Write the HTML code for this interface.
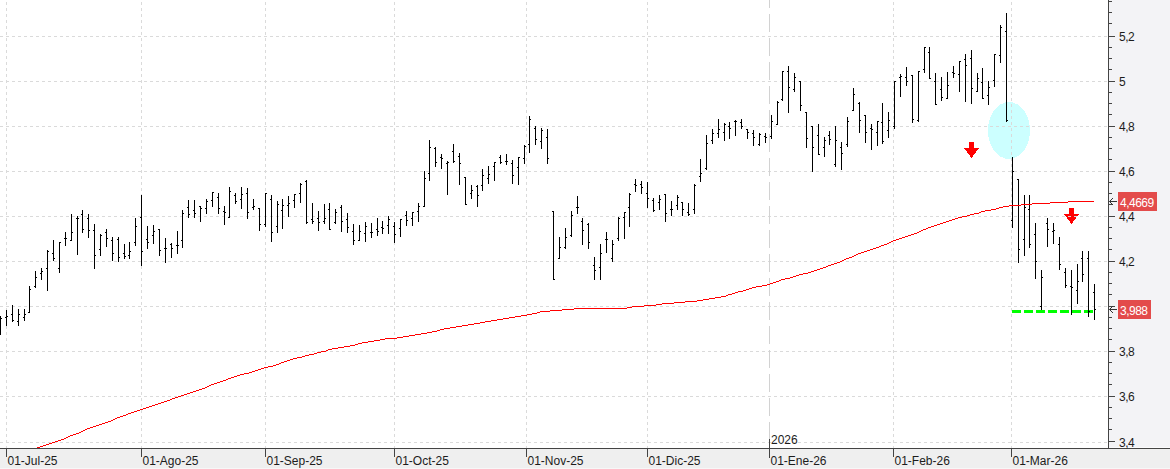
<!DOCTYPE html><html><head><meta charset="utf-8"><title>Chart</title><style>
html,body{margin:0;padding:0;background:#fff;}
body{width:1170px;height:469px;overflow:hidden;position:relative;}
svg{position:absolute;left:0;top:0;}
.t{font-family:"Liberation Sans",Arial,sans-serif;font-size:12px;fill:#1c1c1c;}
.w{fill:#fff;} .ya{letter-spacing:-0.5px;}
</style></head><body>
<svg width="1170" height="469" viewBox="0 0 1170 469">
<rect x="1109" y="0" width="61" height="448" fill="#f3f3f6"/>
<rect x="1109" y="447" width="61" height="1" fill="#fbfbfc"/>
<rect x="0" y="449" width="1170" height="20" fill="#efefef"/>
<rect x="0" y="468" width="1170" height="1" fill="#f7f7f7"/>
<ellipse cx="1009" cy="130.5" rx="21" ry="28.5" fill="#ccffff" shape-rendering="crispEdges"/>
<g shape-rendering="crispEdges" fill="#ff0000"><rect x="969" y="142" width="5" height="6"/><polygon points="964,148 979,148 971.5,158"/></g>
<g shape-rendering="crispEdges" fill="#ff0000"><rect x="1069" y="208" width="5" height="6"/><polygon points="1064,214 1079,214 1071.5,224"/></g>
<g shape-rendering="crispEdges" stroke="#dadada" stroke-width="1" fill="none">
<line x1="0" y1="36.5" x2="1108" y2="36.5" stroke-dasharray="3 3"/>
<line x1="0" y1="81.5" x2="1108" y2="81.5" stroke-dasharray="3 3"/>
<line x1="0" y1="126.5" x2="1108" y2="126.5" stroke-dasharray="3 3"/>
<line x1="0" y1="171.5" x2="1108" y2="171.5" stroke-dasharray="3 3"/>
<line x1="0" y1="216.5" x2="1108" y2="216.5" stroke-dasharray="3 3"/>
<line x1="0" y1="261.5" x2="1108" y2="261.5" stroke-dasharray="3 3"/>
<line x1="0" y1="306.5" x2="1108" y2="306.5" stroke-dasharray="3 3"/>
<line x1="0" y1="351.5" x2="1108" y2="351.5" stroke-dasharray="3 3"/>
<line x1="0" y1="396.5" x2="1108" y2="396.5" stroke-dasharray="3 3"/>
<line x1="0" y1="442.5" x2="1108" y2="442.5" stroke-dasharray="3 3"/>
<line x1="6.5" y1="-4" x2="6.5" y2="448" stroke-dasharray="3 3"/>
<line x1="141.5" y1="-4" x2="141.5" y2="448" stroke-dasharray="3 3"/>
<line x1="265.5" y1="-4" x2="265.5" y2="448" stroke-dasharray="3 3"/>
<line x1="394.5" y1="-4" x2="394.5" y2="448" stroke-dasharray="3 3"/>
<line x1="526.5" y1="-4" x2="526.5" y2="448" stroke-dasharray="3 3"/>
<line x1="647.5" y1="-4" x2="647.5" y2="448" stroke-dasharray="3 3"/>
<line x1="893.5" y1="-4" x2="893.5" y2="448" stroke-dasharray="3 3"/>
<line x1="1011.5" y1="-4" x2="1011.5" y2="448" stroke-dasharray="3 3"/>
</g>
<line x1="769.5" y1="-10" x2="769.5" y2="448" stroke="#d2d2d2" stroke-width="1" stroke-dasharray="18 6" shape-rendering="crispEdges"/>
<line x1="1012" y1="311.5" x2="1094" y2="311.5" stroke="#00ff00" stroke-width="3" stroke-dasharray="9 3" shape-rendering="crispEdges"/>
<path shape-rendering="crispEdges" fill="#000" d="M0 316h1v19h-1zM-1 330h1v1h-1zM1 318h1v1h-1zM6 310h1v16h-1zM5 317h1v1h-1zM7 316h1v1h-1zM12 305h1v17h-1zM11 314h1v1h-1zM13 320h1v1h-1zM18 309h1v17h-1zM17 321h1v1h-1zM19 314h1v1h-1zM24 309h1v12h-1zM23 317h1v1h-1zM25 314h1v1h-1zM29 286h1v27h-1zM28 312h1v1h-1zM30 289h1v1h-1zM35 271h1v17h-1zM34 286h1v1h-1zM36 277h1v1h-1zM41 268h1v12h-1zM40 273h1v1h-1zM42 271h1v1h-1zM47 250h1v41h-1zM46 268h1v1h-1zM48 251h1v1h-1zM53 240h1v21h-1zM52 253h1v1h-1zM54 258h1v1h-1zM59 242h1v31h-1zM58 268h1v1h-1zM60 242h1v1h-1zM65 232h1v14h-1zM64 238h1v1h-1zM66 238h1v1h-1zM71 214h1v27h-1zM70 240h1v1h-1zM72 232h1v1h-1zM77 216h1v39h-1zM76 218h1v1h-1zM78 218h1v1h-1zM82 210h1v23h-1zM81 214h1v1h-1zM83 229h1v1h-1zM88 214h1v24h-1zM87 218h1v1h-1zM89 230h1v1h-1zM94 224h1v45h-1zM93 230h1v1h-1zM95 255h1v1h-1zM100 234h1v22h-1zM99 249h1v1h-1zM101 235h1v1h-1zM106 229h1v18h-1zM105 232h1v1h-1zM107 238h1v1h-1zM112 237h1v24h-1zM111 240h1v1h-1zM113 253h1v1h-1zM118 237h1v25h-1zM117 239h1v1h-1zM119 257h1v1h-1zM124 244h1v15h-1zM123 253h1v1h-1zM125 256h1v1h-1zM129 242h1v17h-1zM128 255h1v1h-1zM130 251h1v1h-1zM135 218h1v28h-1zM134 242h1v1h-1zM136 226h1v1h-1zM141 195h1v71h-1zM140 217h1v1h-1zM142 251h1v1h-1zM147 226h1v23h-1zM146 239h1v1h-1zM148 242h1v1h-1zM153 225h1v19h-1zM152 235h1v1h-1zM154 231h1v1h-1zM159 229h1v27h-1zM158 229h1v1h-1zM160 250h1v1h-1zM165 238h1v25h-1zM164 248h1v1h-1zM166 248h1v1h-1zM171 243h1v15h-1zM170 244h1v1h-1zM172 248h1v1h-1zM177 231h1v23h-1zM176 245h1v1h-1zM178 245h1v1h-1zM182 210h1v38h-1zM181 240h1v1h-1zM183 213h1v1h-1zM188 200h1v18h-1zM187 207h1v1h-1zM189 214h1v1h-1zM194 200h1v18h-1zM193 210h1v1h-1zM195 213h1v1h-1zM200 206h1v16h-1zM199 206h1v1h-1zM201 208h1v1h-1zM206 199h1v15h-1zM205 208h1v1h-1zM207 201h1v1h-1zM212 192h1v15h-1zM211 200h1v1h-1zM213 192h1v1h-1zM218 193h1v21h-1zM217 197h1v1h-1zM219 208h1v1h-1zM224 206h1v19h-1zM223 211h1v1h-1zM225 212h1v1h-1zM229 187h1v31h-1zM228 217h1v1h-1zM230 191h1v1h-1zM235 193h1v11h-1zM234 195h1v1h-1zM236 201h1v1h-1zM241 187h1v22h-1zM240 199h1v1h-1zM242 194h1v1h-1zM247 188h1v31h-1zM246 193h1v1h-1zM248 212h1v1h-1zM253 199h1v11h-1zM252 207h1v1h-1zM254 206h1v1h-1zM259 208h1v23h-1zM258 208h1v1h-1zM260 224h1v1h-1zM265 193h1v34h-1zM264 224h1v1h-1zM266 193h1v1h-1zM271 195h1v47h-1zM270 199h1v1h-1zM272 232h1v1h-1zM277 201h1v32h-1zM276 226h1v1h-1zM278 204h1v1h-1zM282 199h1v30h-1zM281 210h1v1h-1zM283 205h1v1h-1zM288 196h1v21h-1zM287 205h1v1h-1zM289 203h1v1h-1zM294 194h1v14h-1zM293 200h1v1h-1zM295 194h1v1h-1zM300 183h1v20h-1zM299 193h1v1h-1zM301 184h1v1h-1zM306 180h1v44h-1zM305 181h1v1h-1zM307 222h1v1h-1zM312 203h1v21h-1zM311 219h1v1h-1zM313 221h1v1h-1zM318 211h1v20h-1zM317 218h1v1h-1zM319 222h1v1h-1zM324 204h1v20h-1zM323 221h1v1h-1zM325 218h1v1h-1zM329 203h1v27h-1zM328 209h1v1h-1zM330 229h1v1h-1zM335 209h1v15h-1zM334 222h1v1h-1zM336 212h1v1h-1zM341 205h1v27h-1zM340 207h1v1h-1zM342 221h1v1h-1zM347 213h1v20h-1zM346 219h1v1h-1zM348 227h1v1h-1zM353 224h1v21h-1zM352 231h1v1h-1zM354 240h1v1h-1zM359 225h1v16h-1zM358 240h1v1h-1zM360 231h1v1h-1zM365 222h1v20h-1zM364 233h1v1h-1zM366 226h1v1h-1zM371 223h1v15h-1zM370 232h1v1h-1zM372 232h1v1h-1zM377 218h1v18h-1zM376 229h1v1h-1zM378 231h1v1h-1zM382 221h1v13h-1zM381 227h1v1h-1zM383 228h1v1h-1zM388 216h1v18h-1zM387 225h1v1h-1zM389 219h1v1h-1zM394 222h1v21h-1zM393 226h1v1h-1zM395 234h1v1h-1zM400 219h1v18h-1zM399 228h1v1h-1zM401 219h1v1h-1zM406 211h1v15h-1zM405 215h1v1h-1zM407 220h1v1h-1zM412 212h1v14h-1zM411 218h1v1h-1zM413 212h1v1h-1zM418 203h1v19h-1zM417 211h1v1h-1zM419 206h1v1h-1zM424 171h1v36h-1zM423 206h1v1h-1zM425 178h1v1h-1zM429 140h1v41h-1zM428 173h1v1h-1zM430 147h1v1h-1zM435 147h1v20h-1zM434 148h1v1h-1zM436 162h1v1h-1zM441 154h1v15h-1zM440 157h1v1h-1zM442 158h1v1h-1zM447 161h1v34h-1zM446 163h1v1h-1zM448 162h1v1h-1zM453 144h1v19h-1zM452 151h1v1h-1zM454 161h1v1h-1zM459 153h1v32h-1zM458 156h1v1h-1zM460 163h1v1h-1zM465 177h1v28h-1zM464 177h1v1h-1zM466 204h1v1h-1zM471 185h1v14h-1zM470 193h1v1h-1zM472 190h1v1h-1zM477 185h1v22h-1zM476 186h1v1h-1zM478 195h1v1h-1zM482 169h1v22h-1zM481 185h1v1h-1zM483 175h1v1h-1zM488 166h1v18h-1zM487 178h1v1h-1zM489 174h1v1h-1zM494 162h1v19h-1zM493 166h1v1h-1zM495 162h1v1h-1zM500 155h1v9h-1zM499 157h1v1h-1zM501 162h1v1h-1zM506 154h1v11h-1zM505 161h1v1h-1zM507 161h1v1h-1zM512 160h1v24h-1zM511 163h1v1h-1zM513 175h1v1h-1zM518 157h1v28h-1zM517 167h1v1h-1zM519 157h1v1h-1zM524 145h1v19h-1zM523 158h1v1h-1zM525 146h1v1h-1zM529 116h1v37h-1zM528 144h1v1h-1zM530 119h1v1h-1zM535 126h1v19h-1zM534 128h1v1h-1zM536 139h1v1h-1zM541 128h1v21h-1zM540 141h1v1h-1zM542 130h1v1h-1zM547 129h1v35h-1zM546 137h1v1h-1zM548 158h1v1h-1zM553 211h1v69h-1zM552 211h1v1h-1zM554 279h1v1h-1zM559 237h1v22h-1zM558 258h1v1h-1zM560 247h1v1h-1zM565 228h1v21h-1zM564 247h1v1h-1zM566 237h1v1h-1zM571 211h1v26h-1zM570 235h1v1h-1zM572 215h1v1h-1zM577 196h1v18h-1zM576 207h1v1h-1zM578 207h1v1h-1zM582 218h1v27h-1zM581 221h1v1h-1zM583 230h1v1h-1zM588 223h1v26h-1zM587 224h1v1h-1zM589 242h1v1h-1zM594 257h1v23h-1zM593 265h1v1h-1zM595 270h1v1h-1zM600 244h1v36h-1zM599 267h1v1h-1zM601 253h1v1h-1zM606 232h1v21h-1zM605 239h1v1h-1zM607 239h1v1h-1zM612 240h1v22h-1zM611 258h1v1h-1zM613 244h1v1h-1zM618 217h1v24h-1zM617 238h1v1h-1zM619 218h1v1h-1zM624 212h1v27h-1zM623 217h1v1h-1zM625 212h1v1h-1zM629 193h1v34h-1zM628 207h1v1h-1zM630 194h1v1h-1zM635 179h1v13h-1zM634 184h1v1h-1zM636 185h1v1h-1zM641 181h1v13h-1zM640 184h1v1h-1zM642 187h1v1h-1zM647 182h1v26h-1zM646 193h1v1h-1zM648 198h1v1h-1zM653 198h1v14h-1zM652 200h1v1h-1zM654 210h1v1h-1zM659 195h1v15h-1zM658 202h1v1h-1zM660 199h1v1h-1zM665 194h1v28h-1zM664 194h1v1h-1zM666 213h1v1h-1zM671 201h1v15h-1zM670 209h1v1h-1zM672 209h1v1h-1zM677 195h1v15h-1zM676 205h1v1h-1zM678 197h1v1h-1zM682 202h1v14h-1zM681 202h1v1h-1zM683 209h1v1h-1zM688 203h1v13h-1zM687 212h1v1h-1zM689 214h1v1h-1zM694 184h1v30h-1zM693 209h1v1h-1zM695 185h1v1h-1zM700 159h1v23h-1zM699 176h1v1h-1zM701 173h1v1h-1zM706 135h1v35h-1zM705 168h1v1h-1zM707 143h1v1h-1zM712 129h1v15h-1zM711 140h1v1h-1zM713 133h1v1h-1zM718 119h1v19h-1zM717 133h1v1h-1zM719 129h1v1h-1zM724 123h1v18h-1zM723 132h1v1h-1zM725 124h1v1h-1zM729 122h1v17h-1zM728 126h1v1h-1zM730 128h1v1h-1zM735 120h1v16h-1zM734 121h1v1h-1zM736 121h1v1h-1zM741 119h1v10h-1zM740 122h1v1h-1zM742 126h1v1h-1zM747 129h1v10h-1zM746 129h1v1h-1zM748 132h1v1h-1zM753 130h1v16h-1zM752 133h1v1h-1zM754 137h1v1h-1zM759 133h1v13h-1zM758 144h1v1h-1zM760 134h1v1h-1zM765 133h1v10h-1zM764 136h1v1h-1zM766 137h1v1h-1zM771 115h1v24h-1zM770 136h1v1h-1zM772 121h1v1h-1zM777 101h1v24h-1zM776 124h1v1h-1zM778 102h1v1h-1zM782 71h1v30h-1zM781 99h1v1h-1zM783 71h1v1h-1zM788 66h1v47h-1zM787 71h1v1h-1zM789 87h1v1h-1zM794 73h1v19h-1zM793 89h1v1h-1zM795 77h1v1h-1zM800 81h1v30h-1zM799 81h1v1h-1zM801 105h1v1h-1zM806 112h1v36h-1zM805 112h1v1h-1zM807 138h1v1h-1zM812 126h1v46h-1zM811 126h1v1h-1zM813 147h1v1h-1zM818 124h1v31h-1zM817 135h1v1h-1zM819 154h1v1h-1zM824 137h1v20h-1zM823 147h1v1h-1zM825 140h1v1h-1zM829 131h1v14h-1zM828 135h1v1h-1zM830 139h1v1h-1zM835 126h1v41h-1zM834 164h1v1h-1zM836 140h1v1h-1zM841 142h1v28h-1zM840 147h1v1h-1zM842 153h1v1h-1zM847 117h1v30h-1zM846 144h1v1h-1zM848 121h1v1h-1zM853 88h1v23h-1zM852 110h1v1h-1zM854 94h1v1h-1zM859 102h1v31h-1zM858 103h1v1h-1zM860 120h1v1h-1zM865 115h1v28h-1zM864 115h1v1h-1zM866 132h1v1h-1zM871 124h1v26h-1zM870 128h1v1h-1zM872 129h1v1h-1zM877 121h1v25h-1zM876 132h1v1h-1zM878 121h1v1h-1zM882 103h1v41h-1zM881 122h1v1h-1zM883 141h1v1h-1zM888 112h1v26h-1zM887 130h1v1h-1zM889 120h1v1h-1zM894 81h1v48h-1zM893 126h1v1h-1zM895 81h1v1h-1zM900 74h1v23h-1zM899 77h1v1h-1zM901 76h1v1h-1zM906 67h1v19h-1zM905 77h1v1h-1zM907 81h1v1h-1zM912 75h1v48h-1zM911 75h1v1h-1zM913 119h1v1h-1zM918 71h1v51h-1zM917 120h1v1h-1zM919 71h1v1h-1zM924 47h1v26h-1zM923 69h1v1h-1zM925 47h1v1h-1zM929 47h1v32h-1zM928 52h1v1h-1zM930 78h1v1h-1zM935 73h1v32h-1zM934 81h1v1h-1zM936 104h1v1h-1zM941 77h1v24h-1zM940 89h1v1h-1zM942 97h1v1h-1zM947 72h1v27h-1zM946 98h1v1h-1zM948 85h1v1h-1zM953 66h1v12h-1zM952 72h1v1h-1zM954 73h1v1h-1zM959 61h1v31h-1zM958 74h1v1h-1zM960 61h1v1h-1zM965 54h1v48h-1zM964 59h1v1h-1zM966 65h1v1h-1zM971 50h1v54h-1zM970 58h1v1h-1zM972 88h1v1h-1zM977 73h1v19h-1zM976 91h1v1h-1zM978 78h1v1h-1zM982 68h1v31h-1zM981 82h1v1h-1zM983 98h1v1h-1zM988 81h1v24h-1zM987 95h1v1h-1zM989 87h1v1h-1zM994 54h1v33h-1zM993 80h1v1h-1zM995 54h1v1h-1zM1000 25h1v38h-1zM999 55h1v1h-1zM1001 27h1v1h-1zM1006 13h1v109h-1zM1005 31h1v1h-1zM1007 120h1v1h-1zM1012 157h1v71h-1zM1011 220h1v1h-1zM1013 171h1v1h-1zM1018 179h1v84h-1zM1017 179h1v1h-1zM1019 249h1v1h-1zM1024 195h1v61h-1zM1023 239h1v1h-1zM1025 207h1v1h-1zM1029 195h1v53h-1zM1028 209h1v1h-1zM1030 244h1v1h-1zM1035 223h1v56h-1zM1034 234h1v1h-1zM1036 261h1v1h-1zM1041 270h1v40h-1zM1040 306h1v1h-1zM1042 277h1v1h-1zM1047 218h1v29h-1zM1046 223h1v1h-1zM1048 229h1v1h-1zM1053 223h1v21h-1zM1052 231h1v1h-1zM1054 230h1v1h-1zM1059 237h1v33h-1zM1058 244h1v1h-1zM1060 264h1v1h-1zM1065 268h1v20h-1zM1064 272h1v1h-1zM1066 285h1v1h-1zM1071 270h1v45h-1zM1070 286h1v1h-1zM1072 287h1v1h-1zM1077 264h1v40h-1zM1076 290h1v1h-1zM1078 281h1v1h-1zM1082 251h1v31h-1zM1081 258h1v1h-1zM1083 274h1v1h-1zM1088 251h1v66h-1zM1087 258h1v1h-1zM1089 311h1v1h-1zM1094 284h1v36h-1zM1093 292h1v1h-1zM1095 309h1v1h-1z"/>
<path shape-rendering="crispEdges" fill="#ff0000" d="M37 447h3v1h-3zM40 446h3v1h-3zM43 445h3v1h-3zM46 444h3v1h-3zM49 443h3v1h-3zM52 442h3v1h-3zM55 441h3v1h-3zM58 440h3v1h-3zM61 439h3v1h-3zM64 438h2v1h-2zM66 437h2v1h-2zM68 436h2v1h-2zM70 435h3v1h-3zM73 434h3v1h-3zM76 433h3v1h-3zM79 432h2v1h-2zM81 431h2v1h-2zM83 430h2v1h-2zM85 429h2v1h-2zM87 428h3v1h-3zM90 427h3v1h-3zM93 426h3v1h-3zM96 425h3v1h-3zM99 424h3v1h-3zM102 423h3v1h-3zM105 422h3v1h-3zM108 421h3v1h-3zM111 420h2v1h-2zM113 419h2v1h-2zM115 418h2v1h-2zM117 417h3v1h-3zM120 416h3v1h-3zM123 415h3v1h-3zM126 414h2v1h-2zM128 413h3v1h-3zM131 412h3v1h-3zM134 411h3v1h-3zM137 410h3v1h-3zM140 409h3v1h-3zM143 408h3v1h-3zM146 407h3v1h-3zM149 406h3v1h-3zM152 405h3v1h-3zM155 404h3v1h-3zM158 403h3v1h-3zM161 402h3v1h-3zM164 401h3v1h-3zM167 400h3v1h-3zM170 399h2v1h-2zM172 398h3v1h-3zM175 397h3v1h-3zM178 396h3v1h-3zM181 395h3v1h-3zM184 394h3v1h-3zM187 393h3v1h-3zM190 392h3v1h-3zM193 391h3v1h-3zM196 390h3v1h-3zM199 389h3v1h-3zM202 388h3v1h-3zM205 387h2v1h-2zM207 386h2v1h-2zM209 385h2v1h-2zM211 384h3v1h-3zM214 383h3v1h-3zM217 382h3v1h-3zM220 381h3v1h-3zM223 380h3v1h-3zM226 379h2v1h-2zM228 378h3v1h-3zM231 377h3v1h-3zM234 376h3v1h-3zM237 375h3v1h-3zM240 374h4v1h-4zM244 373h5v1h-5zM249 372h3v1h-3zM252 371h3v1h-3zM255 370h3v1h-3zM258 369h3v1h-3zM261 368h3v1h-3zM264 367h4v1h-4zM268 366h5v1h-5zM273 365h3v1h-3zM276 364h3v1h-3zM279 363h2v1h-2zM281 362h3v1h-3zM284 361h3v1h-3zM287 360h3v1h-3zM290 359h3v1h-3zM293 358h4v1h-4zM297 357h5v1h-5zM302 356h3v1h-3zM305 355h4v1h-4zM309 354h5v1h-5zM314 353h3v1h-3zM317 352h4v1h-4zM321 351h5v1h-5zM326 350h2v1h-2zM328 349h4v1h-4zM332 348h6v1h-6zM338 347h6v1h-6zM344 346h6v1h-6zM350 345h5v1h-5zM355 344h3v1h-3zM358 343h4v1h-4zM362 342h6v1h-6zM368 341h6v1h-6zM374 340h6v1h-6zM380 339h5v1h-5zM385 338h12v1h-12zM397 337h6v1h-6zM403 336h6v1h-6zM409 335h6v1h-6zM415 334h6v1h-6zM421 333h6v1h-6zM427 332h5v1h-5zM432 331h5v1h-5zM437 330h3v1h-3zM440 329h4v1h-4zM444 328h6v1h-6zM450 327h6v1h-6zM456 326h6v1h-6zM462 325h6v1h-6zM468 324h6v1h-6zM474 323h6v1h-6zM480 322h5v1h-5zM485 321h6v1h-6zM491 320h6v1h-6zM497 319h6v1h-6zM503 318h6v1h-6zM509 317h6v1h-6zM515 316h6v1h-6zM521 315h6v1h-6zM527 314h5v1h-5zM532 313h5v1h-5zM537 312h3v1h-3zM540 311h10v1h-10zM550 310h12v1h-12zM562 309h12v1h-12zM574 308h53v1h-53zM627 307h5v1h-5zM632 306h12v1h-12zM644 305h12v1h-12zM656 304h6v1h-6zM662 303h12v1h-12zM674 302h11v1h-11zM685 301h12v1h-12zM697 300h6v1h-6zM703 299h6v1h-6zM709 298h6v1h-6zM715 297h6v1h-6zM721 296h5v1h-5zM726 295h2v1h-2zM728 294h4v1h-4zM732 293h3v1h-3zM735 292h3v1h-3zM738 291h5v1h-5zM743 290h3v1h-3zM746 289h3v1h-3zM749 288h3v1h-3zM752 287h4v1h-4zM756 286h6v1h-6zM762 285h5v1h-5zM767 284h3v1h-3zM770 283h3v1h-3zM773 282h3v1h-3zM776 281h3v1h-3zM779 280h2v1h-2zM781 279h4v1h-4zM785 278h5v1h-5zM790 277h3v1h-3zM793 276h3v1h-3zM796 275h3v1h-3zM799 274h4v1h-4zM803 273h5v1h-5zM808 272h3v1h-3zM811 271h3v1h-3zM814 270h3v1h-3zM817 269h3v1h-3zM820 268h3v1h-3zM823 267h3v1h-3zM826 266h2v1h-2zM828 265h3v1h-3zM831 264h3v1h-3zM834 263h3v1h-3zM837 262h3v1h-3zM840 261h2v1h-2zM842 260h2v1h-2zM844 259h2v1h-2zM846 258h3v1h-3zM849 257h3v1h-3zM852 256h2v1h-2zM854 255h2v1h-2zM856 254h2v1h-2zM858 253h3v1h-3zM861 252h3v1h-3zM864 251h3v1h-3zM867 250h3v1h-3zM870 249h3v1h-3zM873 248h3v1h-3zM876 247h3v1h-3zM879 246h2v1h-2zM881 245h3v1h-3zM884 244h3v1h-3zM887 243h2v1h-2zM889 242h2v1h-2zM891 241h2v1h-2zM893 240h3v1h-3zM896 239h3v1h-3zM899 238h3v1h-3zM902 237h3v1h-3zM905 236h3v1h-3zM908 235h3v1h-3zM911 234h3v1h-3zM914 233h3v1h-3zM917 232h2v1h-2zM919 231h2v1h-2zM921 230h2v1h-2zM923 229h3v1h-3zM926 228h2v1h-2zM928 227h3v1h-3zM931 226h3v1h-3zM934 225h3v1h-3zM937 224h3v1h-3zM940 223h3v1h-3zM943 222h3v1h-3zM946 221h3v1h-3zM949 220h3v1h-3zM952 219h3v1h-3zM955 218h3v1h-3zM958 217h4v1h-4zM962 216h5v1h-5zM967 215h3v1h-3zM970 214h4v1h-4zM974 213h5v1h-5zM979 212h2v1h-2zM981 211h4v1h-4zM985 210h6v1h-6zM991 209h5v1h-5zM996 208h3v1h-3zM999 207h4v1h-4zM1003 206h6v1h-6zM1009 205h12v1h-12zM1021 204h11v1h-11zM1032 203h18v1h-18zM1050 202h18v1h-18zM1068 201h26v1h-26z"/>
<g shape-rendering="crispEdges" fill="#444444">
<rect x="0" y="448" width="1170" height="1"/>
<rect x="1108" y="0" width="1" height="448"/>
<rect x="1108" y="1" width="4" height="1"/>
<rect x="1108" y="12" width="4" height="1"/>
<rect x="1108" y="23" width="4" height="1"/>
<rect x="1108" y="36" width="7" height="1"/>
<rect x="1108" y="47" width="4" height="1"/>
<rect x="1108" y="58" width="4" height="1"/>
<rect x="1108" y="69" width="4" height="1"/>
<rect x="1108" y="81" width="7" height="1"/>
<rect x="1108" y="92" width="4" height="1"/>
<rect x="1108" y="103" width="4" height="1"/>
<rect x="1108" y="114" width="4" height="1"/>
<rect x="1108" y="126" width="7" height="1"/>
<rect x="1108" y="137" width="4" height="1"/>
<rect x="1108" y="148" width="4" height="1"/>
<rect x="1108" y="159" width="4" height="1"/>
<rect x="1108" y="171" width="7" height="1"/>
<rect x="1108" y="182" width="4" height="1"/>
<rect x="1108" y="193" width="4" height="1"/>
<rect x="1108" y="204" width="4" height="1"/>
<rect x="1108" y="216" width="7" height="1"/>
<rect x="1108" y="227" width="4" height="1"/>
<rect x="1108" y="238" width="4" height="1"/>
<rect x="1108" y="249" width="4" height="1"/>
<rect x="1108" y="261" width="7" height="1"/>
<rect x="1108" y="272" width="4" height="1"/>
<rect x="1108" y="283" width="4" height="1"/>
<rect x="1108" y="294" width="4" height="1"/>
<rect x="1108" y="306" width="7" height="1"/>
<rect x="1108" y="317" width="4" height="1"/>
<rect x="1108" y="328" width="4" height="1"/>
<rect x="1108" y="339" width="4" height="1"/>
<rect x="1108" y="351" width="7" height="1"/>
<rect x="1108" y="362" width="4" height="1"/>
<rect x="1108" y="373" width="4" height="1"/>
<rect x="1108" y="384" width="4" height="1"/>
<rect x="1108" y="396" width="7" height="1"/>
<rect x="1108" y="407" width="4" height="1"/>
<rect x="1108" y="418" width="4" height="1"/>
<rect x="1108" y="429" width="4" height="1"/>
<rect x="1108" y="441" width="7" height="1"/>
<rect x="6" y="448" width="1" height="9"/>
<rect x="141" y="448" width="1" height="9"/>
<rect x="265" y="448" width="1" height="9"/>
<rect x="394" y="448" width="1" height="9"/>
<rect x="526" y="448" width="1" height="9"/>
<rect x="647" y="448" width="1" height="9"/>
<rect x="893" y="448" width="1" height="9"/>
<rect x="1011" y="448" width="1" height="9"/>
<rect x="769" y="439" width="1" height="19"/>
</g>
<text class="t" x="7.5" y="465">01-Jul-25</text>
<text class="t" x="142.5" y="465">01-Ago-25</text>
<text class="t" x="266.5" y="465">01-Sep-25</text>
<text class="t" x="395.5" y="465">01-Oct-25</text>
<text class="t" x="527.5" y="465">01-Nov-25</text>
<text class="t" x="648.5" y="465">01-Dic-25</text>
<text class="t" x="770.5" y="465">01-Ene-26</text>
<text class="t" x="894.5" y="465">01-Feb-26</text>
<text class="t" x="1012.5" y="465">01-Mar-26</text>
<text class="t" x="771" y="444">2026</text>
<text class="t ya" x="1119" y="41">5,2</text>
<text class="t ya" x="1119" y="86">5</text>
<text class="t ya" x="1119" y="131">4,8</text>
<text class="t ya" x="1119" y="176">4,6</text>
<text class="t ya" x="1119" y="221">4,4</text>
<text class="t ya" x="1119" y="266">4,2</text>
<text class="t ya" x="1119" y="356">3,8</text>
<text class="t ya" x="1119" y="401">3,6</text>
<text class="t ya" x="1119" y="447">3,4</text>
<rect x="1118" y="192" width="39" height="19" fill="#e34b4b"/>
<text class="t w ya" x="1120" y="207">4,4669</text>
<rect x="1118" y="300" width="33" height="19" fill="#e34b4b"/>
<text class="t w ya" x="1120" y="315">3,988</text>
<path d="M1117 201.5H1109.5M1113 198.0L1109.5 201.5L1113 205.0" stroke="#333" stroke-width="1" fill="none"/>
<path d="M1117 309.5H1109.5M1113 306.0L1109.5 309.5L1113 313.0" stroke="#333" stroke-width="1" fill="none"/>
</svg></body></html>
